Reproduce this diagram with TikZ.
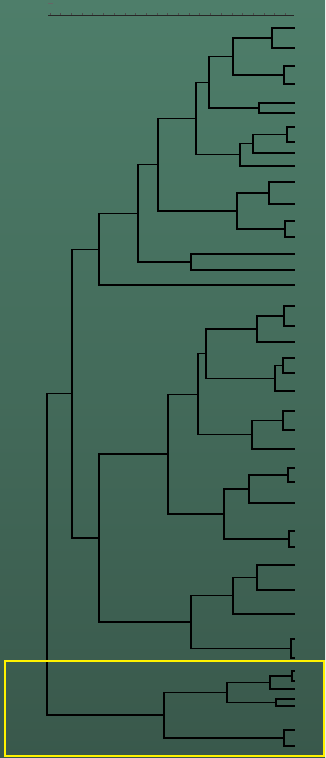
\documentclass[tikz,border=0pt]{standalone}
\begin{document}
\begin{tikzpicture}[x=1pt,y=-1pt,
  branch/.style={draw=black,line width=1.1pt,line cap=rect},
  axisline/.style={draw=black!85,line width=0.9pt},
  tickmark/.style={draw=black!70,line width=0.8pt},
  hilite/.style={draw=yellow,line width=2pt}]
\useasboundingbox (0,0) rectangle (325,758);
\shade[top color={rgb,255:red,78;green,126;blue,106},bottom color={rgb,255:red,57;green,88;blue,75}] (0,0) rectangle (325,758);
% scale bar
\coordinate (s0) at (48,15);
\coordinate (s1) at (294,15);
\draw[axisline] (s0) -- (s1);
\foreach \k in {0,...,22} \draw[tickmark] ({50+\k*10.7},13.3) -- ({50+\k*10.7},14.6);
\coordinate (t0) at (48,3);
\coordinate (t1) at (53,3);
\draw[draw=black!60,line width=0.6pt] (t0) -- (t1);
% leaves
\foreach \n/\y in {1/28,2/48,3/66,4/84,5/103,6/113,7/127,8/142,9/153,10/166,11/182,12/204,13/221,14/237,15/254,16/270,17/285,18/306,19/326,20/342,21/358,22/373,23/391,24/411,25/430,26/449,27/468,28/482,29/503,30/531,31/547,32/565,33/590,34/614,35/639,36/658,37/671,38/681,39/689,40/699,41/706,42/730,43/746}
  \coordinate (l\n) at (294,\y);
% internal nodes
\coordinate (A) at (272,38);
\coordinate (B) at (284,75);
\coordinate (AB) at (233,56.5);
\coordinate (C) at (259,108);
\coordinate (ABC) at (209,82.25);
\coordinate (F) at (287,134.5);
\coordinate (E) at (253,143.75);
\coordinate (D) at (240,154.9);
\coordinate (G) at (196,118.6);
\coordinate (I) at (269,193);
\coordinate (J) at (285,229);
\coordinate (H) at (237,211);
\coordinate (K) at (158,164.8);
\coordinate (M) at (191,262);
\coordinate (L) at (138,213.4);
\coordinate (N) at (99,249.2);
\coordinate (W) at (284,316);
\coordinate (V) at (257,329);
\coordinate (Y) at (283,365.5);
\coordinate (X) at (275,378.25);
\coordinate (S) at (206,353.6);
\coordinate (U) at (283,420.5);
\coordinate (T) at (252,434.75);
\coordinate (R) at (198,394.2);
\coordinate (AA2) at (288,475);
\coordinate (AA) at (249,489);
\coordinate (AC) at (289,539);
\coordinate (Z) at (224,514);
\coordinate (Q) at (168,454);
\coordinate (AE) at (257,577.5);
\coordinate (AD) at (233,595.75);
\coordinate (AF) at (291,648.5);
\coordinate (P2) at (191,622);
\coordinate (P) at (99,538);
\coordinate (O) at (72,393.6);
\coordinate (AI) at (292,676);
\coordinate (AH) at (270,682.5);
\coordinate (AJ) at (276,702.5);
\coordinate (AG) at (227,692.5);
\coordinate (AK) at (284,738);
\coordinate (BB) at (164,715);
\coordinate (root) at (47,554.3);
% branches
\foreach \p/\a/\b in {A/l1/l2,B/l3/l4,AB/A/B,C/l5/l6,ABC/AB/C,F/l7/l8,E/F/l9,D/E/l10,G/ABC/D,
  I/l11/l12,J/l13/l14,H/I/J,K/G/H,M/l15/l16,L/K/M,N/L/l17,
  W/l18/l19,V/W/l20,Y/l21/l22,X/Y/l23,S/V/X,U/l24/l25,T/U/l26,R/S/T,
  AA2/l27/l28,AA/AA2/l29,AC/l30/l31,Z/AA/AC,Q/R/Z,AE/l32/l33,AD/AE/l34,AF/l35/l36,P2/AD/AF,P/Q/P2,O/N/P,
  AI/l37/l38,AH/AI/l39,AJ/l40/l41,AG/AH/AJ,AK/l42/l43,BB/AG/AK,root/O/BB}
  { \draw[branch] (\p) |- (\a); \draw[branch] (\p) |- (\b); }
% highlight box
\coordinate (h0) at (5,661);
\coordinate (h1) at (324,756);
\draw[hilite] (h0) rectangle (h1);
\end{tikzpicture}
\end{document}
